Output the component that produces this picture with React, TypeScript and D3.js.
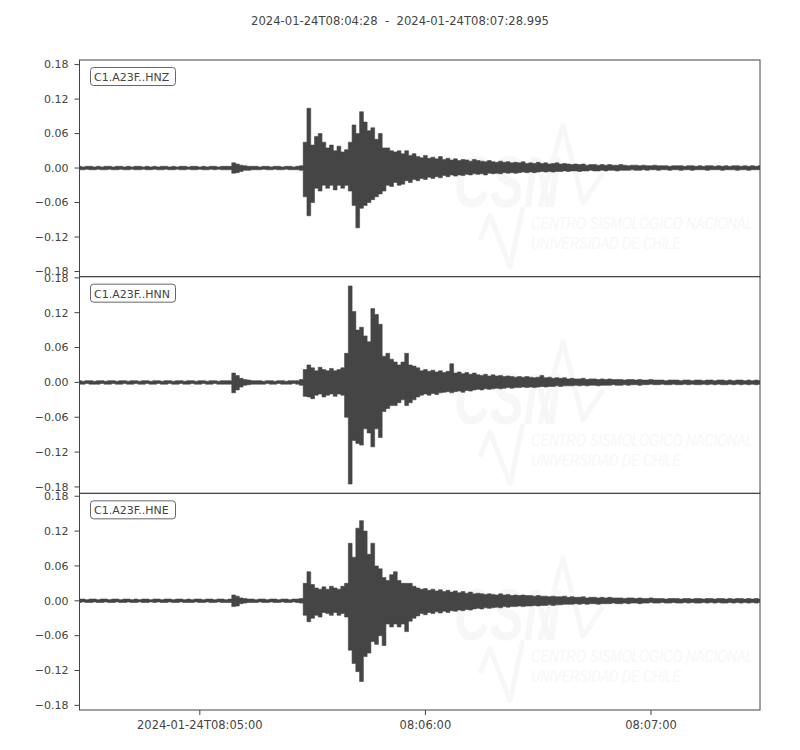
import React from "react";
import * as d3 from "d3";

// ---- data (envelope of each trace, 1 sample per second from 08:04:28) ----
const START_ISO = "2024-01-24T08:04:28.000Z";
const END_ISO = "2024-01-24T08:07:28.995Z";
const TITLE = "2024-01-24T08:04:28  -  2024-01-24T08:07:28.995";
const CHANNELS = ["C1.A23F..HNZ", "C1.A23F..HNN", "C1.A23F..HNE"];

const HNZ_MAX = [
  0.003,0.002,0.003,0.003,0.002,0.003,0.002,0.003,0.003,0.002,
  0.003,0.003,0.002,0.003,0.002,0.003,0.003,0.002,0.003,0.002,
  0.003,0.002,0.003,0.003,0.002,0.003,0.002,0.003,0.003,0.002,
  0.003,0.003,0.002,0.003,0.002,0.003,0.003,0.002,0.003,0.003,
  0.003,0.009,0.007,0.005,0.004,0.003,0.003,0.003,0.002,0.003,
  0.003,0.002,0.003,0.003,0.002,0.003,0.003,0.002,0.003,0.004,
  0.045,0.104,0.040,0.055,0.060,0.045,0.035,0.040,0.030,0.038,
  0.028,0.032,0.045,0.075,0.060,0.098,0.080,0.065,0.070,0.050,
  0.060,0.035,0.035,0.030,0.028,0.030,0.025,0.030,0.022,0.025,
  0.020,0.018,0.022,0.017,0.019,0.016,0.020,0.015,0.017,0.014,
  0.016,0.013,0.015,0.014,0.012,0.015,0.013,0.012,0.011,0.013,
  0.011,0.010,0.012,0.010,0.011,0.009,0.010,0.009,0.011,0.008,
  0.009,0.008,0.010,0.008,0.009,0.007,0.008,0.009,0.007,0.008,
  0.007,0.006,0.007,0.006,0.007,0.005,0.006,0.006,0.005,0.006,
  0.005,0.006,0.005,0.005,0.006,0.005,0.004,0.005,0.005,0.004,
  0.005,0.004,0.004,0.005,0.004,0.004,0.004,0.003,0.004,0.004,
  0.004,0.003,0.004,0.004,0.003,0.004,0.003,0.004,0.004,0.003,
  0.004,0.003,0.004,0.003,0.004,0.004,0.003,0.004,0.003,0.004,
  0.003,0.004
];
const HNZ_MIN = [
  -0.003,-0.003,-0.002,-0.003,-0.003,-0.002,-0.003,-0.003,-0.002,-0.003,
  -0.003,-0.002,-0.003,-0.003,-0.002,-0.003,-0.003,-0.002,-0.003,-0.003,
  -0.002,-0.003,-0.003,-0.002,-0.003,-0.003,-0.002,-0.003,-0.003,-0.002,
  -0.003,-0.003,-0.002,-0.003,-0.003,-0.002,-0.003,-0.002,-0.003,-0.003,
  -0.003,-0.009,-0.008,-0.006,-0.004,-0.004,-0.003,-0.003,-0.003,-0.002,
  -0.003,-0.003,-0.002,-0.003,-0.003,-0.002,-0.003,-0.003,-0.003,-0.004,
  -0.050,-0.083,-0.060,-0.035,-0.040,-0.030,-0.035,-0.030,-0.038,-0.030,
  -0.035,-0.030,-0.040,-0.065,-0.104,-0.070,-0.065,-0.060,-0.055,-0.050,
  -0.045,-0.040,-0.030,-0.032,-0.025,-0.030,-0.028,-0.022,-0.025,-0.020,
  -0.022,-0.018,-0.020,-0.016,-0.018,-0.015,-0.017,-0.013,-0.015,-0.012,
  -0.014,-0.012,-0.013,-0.011,-0.012,-0.010,-0.011,-0.010,-0.012,-0.009,
  -0.010,-0.009,-0.010,-0.008,-0.009,-0.008,-0.009,-0.008,-0.007,-0.008,
  -0.007,-0.008,-0.007,-0.006,-0.007,-0.006,-0.007,-0.006,-0.006,-0.005,
  -0.006,-0.005,-0.005,-0.006,-0.005,-0.005,-0.004,-0.005,-0.005,-0.004,
  -0.005,-0.004,-0.004,-0.005,-0.004,-0.004,-0.004,-0.003,-0.004,-0.004,
  -0.003,-0.004,-0.003,-0.003,-0.004,-0.003,-0.003,-0.004,-0.003,-0.003,
  -0.004,-0.003,-0.003,-0.004,-0.003,-0.003,-0.003,-0.004,-0.003,-0.003,
  -0.003,-0.004,-0.003,-0.003,-0.003,-0.004,-0.003,-0.003,-0.004,-0.003,
  -0.003,-0.003
];

const HNN_MAX = [
  0.003,0.002,0.003,0.003,0.002,0.003,0.003,0.002,0.003,0.003,
  0.002,0.003,0.003,0.002,0.003,0.003,0.002,0.003,0.003,0.002,
  0.003,0.003,0.002,0.003,0.003,0.002,0.003,0.003,0.002,0.003,
  0.003,0.002,0.003,0.003,0.002,0.003,0.003,0.002,0.003,0.003,
  0.003,0.016,0.012,0.007,0.005,0.004,0.003,0.003,0.003,0.002,
  0.003,0.003,0.002,0.003,0.003,0.002,0.003,0.003,0.003,0.005,
  0.022,0.030,0.025,0.020,0.026,0.022,0.020,0.024,0.020,0.022,
  0.025,0.050,0.166,0.122,0.090,0.095,0.080,0.070,0.127,0.117,
  0.100,0.045,0.050,0.040,0.035,0.030,0.035,0.050,0.030,0.028,
  0.025,0.020,0.022,0.019,0.021,0.018,0.020,0.017,0.019,0.032,
  0.016,0.018,0.015,0.017,0.014,0.016,0.013,0.012,0.014,0.011,
  0.013,0.011,0.012,0.010,0.011,0.010,0.009,0.010,0.009,0.010,
  0.009,0.008,0.009,0.012,0.008,0.009,0.007,0.008,0.007,0.008,
  0.006,0.007,0.006,0.006,0.007,0.005,0.006,0.006,0.005,0.006,
  0.005,0.006,0.005,0.005,0.005,0.004,0.005,0.005,0.004,0.005,
  0.004,0.004,0.005,0.004,0.004,0.004,0.003,0.004,0.004,0.004,
  0.003,0.004,0.004,0.003,0.004,0.004,0.003,0.004,0.004,0.003,
  0.004,0.004,0.003,0.004,0.003,0.004,0.004,0.003,0.004,0.003,
  0.004,0.003
];
const HNN_MIN = [
  -0.003,-0.003,-0.002,-0.003,-0.003,-0.003,-0.002,-0.003,-0.003,-0.002,
  -0.003,-0.003,-0.002,-0.003,-0.003,-0.002,-0.003,-0.003,-0.002,-0.003,
  -0.003,-0.002,-0.003,-0.003,-0.002,-0.003,-0.003,-0.002,-0.003,-0.003,
  -0.002,-0.003,-0.003,-0.002,-0.003,-0.003,-0.002,-0.003,-0.003,-0.003,
  -0.003,-0.018,-0.013,-0.008,-0.005,-0.004,-0.003,-0.003,-0.003,-0.003,
  -0.002,-0.003,-0.003,-0.002,-0.003,-0.003,-0.003,-0.002,-0.003,-0.005,
  -0.024,-0.025,-0.028,-0.022,-0.020,-0.025,-0.022,-0.020,-0.024,-0.020,
  -0.022,-0.060,-0.175,-0.100,-0.105,-0.108,-0.080,-0.087,-0.111,-0.080,
  -0.095,-0.050,-0.045,-0.040,-0.040,-0.035,-0.030,-0.040,-0.035,-0.030,
  -0.025,-0.022,-0.020,-0.022,-0.019,-0.021,-0.018,-0.017,-0.016,-0.018,
  -0.016,-0.015,-0.017,-0.014,-0.015,-0.013,-0.012,-0.013,-0.011,-0.012,
  -0.011,-0.010,-0.011,-0.010,-0.009,-0.010,-0.009,-0.009,-0.008,-0.009,
  -0.008,-0.009,-0.008,-0.007,-0.008,-0.007,-0.007,-0.006,-0.007,-0.006,
  -0.006,-0.006,-0.005,-0.006,-0.005,-0.006,-0.005,-0.005,-0.006,-0.005,
  -0.005,-0.005,-0.004,-0.005,-0.005,-0.004,-0.005,-0.004,-0.004,-0.005,
  -0.004,-0.004,-0.003,-0.004,-0.004,-0.003,-0.004,-0.004,-0.003,-0.004,
  -0.004,-0.003,-0.004,-0.003,-0.004,-0.004,-0.003,-0.004,-0.003,-0.004,
  -0.003,-0.004,-0.004,-0.003,-0.004,-0.003,-0.004,-0.003,-0.004,-0.003,
  -0.004,-0.003
];

const HNE_MAX = [
  0.003,0.003,0.002,0.003,0.003,0.002,0.003,0.003,0.002,0.003,
  0.003,0.002,0.003,0.003,0.002,0.003,0.002,0.003,0.003,0.002,
  0.003,0.003,0.002,0.003,0.003,0.002,0.003,0.003,0.002,0.003,
  0.002,0.003,0.003,0.002,0.003,0.003,0.002,0.003,0.003,0.002,
  0.003,0.010,0.008,0.005,0.004,0.003,0.003,0.002,0.003,0.003,
  0.002,0.003,0.003,0.002,0.003,0.003,0.002,0.003,0.003,0.004,
  0.030,0.050,0.028,0.022,0.020,0.024,0.020,0.025,0.022,0.020,
  0.025,0.030,0.099,0.075,0.125,0.138,0.120,0.080,0.099,0.060,
  0.055,0.040,0.035,0.045,0.050,0.035,0.030,0.030,0.030,0.025,
  0.022,0.020,0.021,0.018,0.020,0.017,0.019,0.016,0.018,0.015,
  0.017,0.014,0.016,0.013,0.015,0.012,0.013,0.012,0.011,0.012,
  0.011,0.010,0.012,0.010,0.011,0.009,0.010,0.009,0.010,0.009,
  0.009,0.008,0.009,0.008,0.008,0.007,0.008,0.007,0.007,0.008,
  0.006,0.007,0.006,0.006,0.007,0.005,0.006,0.006,0.005,0.006,
  0.005,0.006,0.005,0.005,0.005,0.004,0.005,0.005,0.004,0.005,
  0.004,0.004,0.005,0.004,0.004,0.004,0.003,0.004,0.004,0.004,
  0.003,0.004,0.004,0.003,0.004,0.004,0.003,0.004,0.004,0.003,
  0.004,0.004,0.003,0.004,0.003,0.004,0.004,0.003,0.004,0.003,
  0.004,0.003
];
const HNE_MIN = [
  -0.003,-0.002,-0.003,-0.003,-0.002,-0.003,-0.003,-0.002,-0.003,-0.003,
  -0.002,-0.003,-0.003,-0.002,-0.003,-0.003,-0.002,-0.003,-0.003,-0.002,
  -0.003,-0.002,-0.003,-0.003,-0.002,-0.003,-0.003,-0.002,-0.003,-0.003,
  -0.003,-0.002,-0.003,-0.003,-0.002,-0.003,-0.003,-0.002,-0.003,-0.003,
  -0.003,-0.010,-0.009,-0.005,-0.004,-0.003,-0.003,-0.003,-0.002,-0.003,
  -0.003,-0.002,-0.003,-0.003,-0.002,-0.003,-0.003,-0.002,-0.003,-0.004,
  -0.025,-0.036,-0.030,-0.025,-0.028,-0.020,-0.022,-0.025,-0.020,-0.025,
  -0.022,-0.028,-0.085,-0.108,-0.122,-0.139,-0.096,-0.090,-0.070,-0.075,
  -0.060,-0.077,-0.040,-0.045,-0.040,-0.045,-0.040,-0.053,-0.035,-0.030,
  -0.026,-0.022,-0.024,-0.020,-0.022,-0.019,-0.021,-0.018,-0.020,-0.017,
  -0.018,-0.016,-0.017,-0.015,-0.016,-0.014,-0.013,-0.014,-0.012,-0.013,
  -0.012,-0.011,-0.012,-0.010,-0.011,-0.010,-0.010,-0.009,-0.010,-0.009,
  -0.009,-0.008,-0.009,-0.008,-0.008,-0.007,-0.008,-0.007,-0.007,-0.006,
  -0.006,-0.006,-0.005,-0.006,-0.005,-0.006,-0.005,-0.005,-0.006,-0.005,
  -0.005,-0.005,-0.004,-0.005,-0.005,-0.004,-0.005,-0.004,-0.004,-0.005,
  -0.004,-0.004,-0.003,-0.004,-0.004,-0.003,-0.004,-0.004,-0.003,-0.004,
  -0.004,-0.003,-0.004,-0.003,-0.004,-0.004,-0.003,-0.004,-0.003,-0.004,
  -0.003,-0.004,-0.004,-0.003,-0.004,-0.003,-0.004,-0.003,-0.004,-0.003,
  -0.004,-0.003
];

const TRACE_MAX = [HNZ_MAX, HNN_MAX, HNE_MAX];
const TRACE_MIN = [HNZ_MIN, HNN_MIN, HNE_MIN];
const Y_LIMITS = [[-0.189, 0.188], [-0.191, 0.182], [-0.188, 0.185]];
const Y_TICKS = [-0.18, -0.12, -0.06, 0, 0.06, 0.12, 0.18];
const X_TICK_TIMES = ["2024-01-24T08:05:00Z", "2024-01-24T08:06:00Z", "2024-01-24T08:07:00Z"];
const X_TICK_LABELS = ["2024-01-24T08:05:00", "08:06:00", "08:07:00"];

// ---- layout ----
const W = 800, H = 750;
const LEFT = 79.5, RIGHT = 760, TOP = 60, BOTTOM = 710;
const PANEL_H = (BOTTOM - TOP) / 3;
const INK = "#444444";
const WAVE = "#454545";
const FONT = "'DejaVu Sans', sans-serif";
const WM = "#f7f7f7";

export default function App() {
  const start = new Date(START_ISO).getTime();
  const x = d3.scaleUtc().domain([new Date(START_ISO), new Date(END_ISO)]).range([LEFT, RIGHT]);
  const fmt = d3.format(".2f");

  return (
    <svg width={W} height={H} style={{ position: "absolute", left: 0, top: 0, background: "#fff" }}
      fontFamily={FONT}>
      <rect x={0} y={0} width={W} height={H} fill="#fff" />
      <text x={400} y={25} textAnchor="middle" fontSize={11.6} fill={INK} style={{ whiteSpace: "pre" }}>
        {TITLE}
      </text>
      {CHANNELS.map((ch, p) => {
        const top = TOP + p * PANEL_H;
        const bot = top + PANEL_H;
        const y = d3.scaleLinear().domain(Y_LIMITS[p]).range([bot, top]);
        const maxs = TRACE_MAX[p];
        const mins = TRACE_MIN[p];
        const pts = maxs.map((v, i) => ({ t: new Date(start + i * 1000), hi: v, lo: mins[i] }));
        const area = d3.area<any>()
          .curve(d3.curveStep)
          .x((d) => x(d.t))
          .y0((d) => y(d.lo))
          .y1((d) => y(d.hi));
        const dy = p * PANEL_H;
        return (
          <g key={ch}>
            <defs>
              <clipPath id={`clip${p}`}>
                <rect x={LEFT} y={top} width={RIGHT - LEFT} height={PANEL_H} />
              </clipPath>
            </defs>
            <g clipPath={`url(#clip${p})`}>
              {/* CSN watermark */}
              <g transform={`translate(0,${dy})`}>
                <text x={454} y={207} fontSize={72} fontWeight="bold" fontStyle="italic" fill={WM}
                  textLength={106} lengthAdjust="spacingAndGlyphs"
                  fontFamily="'Liberation Sans', sans-serif">CSN</text>
                <polyline points="540,207 563,125 583,203 603,173" fill="none" stroke={WM} strokeWidth={5} strokeLinejoin="round" />
                <polyline points="480,240 490,215 510,267 523,207" fill="none" stroke={WM} strokeWidth={5} strokeLinejoin="round" />
                <text x={531} y={229} fontSize={17} fontStyle="italic" fill={WM}
                  textLength={222} lengthAdjust="spacingAndGlyphs"
                  fontFamily="'Liberation Sans', sans-serif">CENTRO SISMOLÓGICO NACIONAL</text>
                <text x={531} y={249} fontSize={17} fontStyle="italic" fill={WM}
                  textLength={150} lengthAdjust="spacingAndGlyphs"
                  fontFamily="'Liberation Sans', sans-serif">UNIVERSIDAD DE CHILE</text>
              </g>
              <path d={area(pts) || ""} fill={WAVE} stroke={WAVE} strokeWidth={0.6} />
            </g>
            <rect x={LEFT} y={top} width={RIGHT - LEFT} height={PANEL_H} fill="none" stroke={INK} strokeWidth={1} />
            {Y_TICKS.map((v) => (
              <g key={v}>
                <line x1={LEFT - 5} x2={LEFT} y1={y(v)} y2={y(v)} stroke={INK} strokeWidth={1} />
                <text x={LEFT - 11} y={y(v)} dy="0.35em" textAnchor="end" fontSize={11} fill={INK}>
                  {fmt(v).replace("-", "\u2212")}
                </text>
              </g>
            ))}
            <rect x={90.5} y={top + 7.5} width={85} height={18} rx={3} fill="#fff" stroke="#666" strokeWidth={1} />
            <text x={94} y={top + 21} fontSize={11} fill={INK}>{ch}</text>
          </g>
        );
      })}
      {X_TICK_TIMES.map((t, i) => {
        const xx = x(new Date(t));
        return (
          <g key={t}>
            <line x1={xx} x2={xx} y1={BOTTOM} y2={BOTTOM + 5} stroke={INK} strokeWidth={1} />
            <text x={xx} y={BOTTOM + 19} textAnchor="middle" fontSize={11.5} fill={INK}>{X_TICK_LABELS[i]}</text>
          </g>
        );
      })}
    </svg>
  );
}
